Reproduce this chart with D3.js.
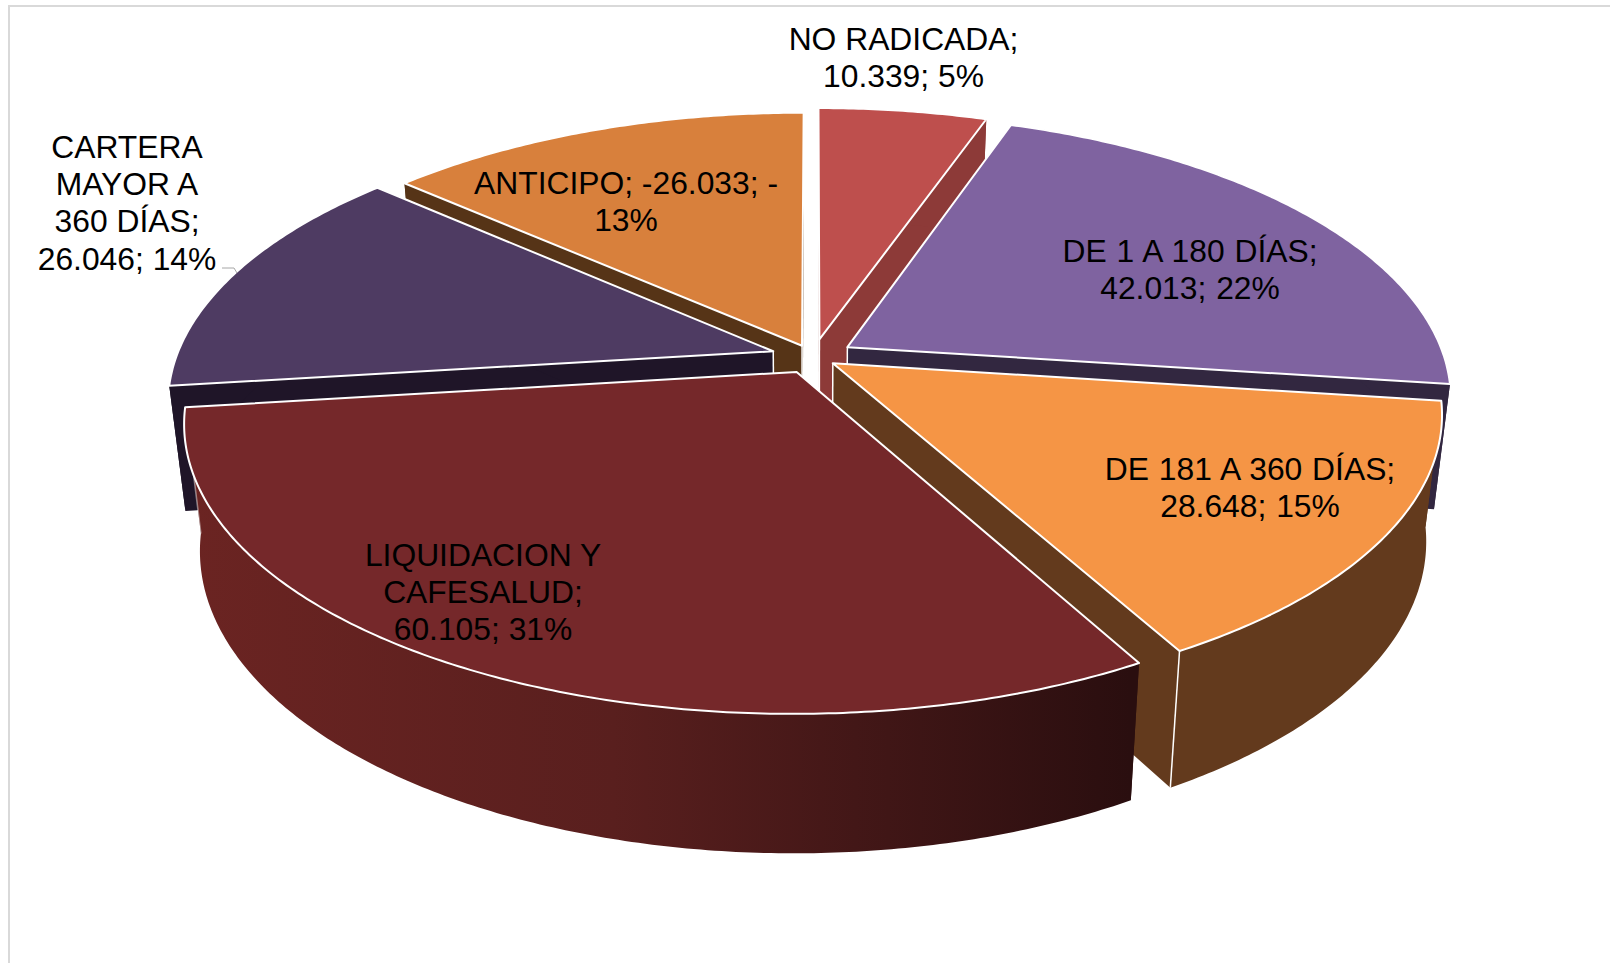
<!DOCTYPE html>
<html><head><meta charset="utf-8">
<script src="https://cdn.jsdelivr.net/npm/d3@7"></script>
<style>html,body{margin:0;padding:0;background:#fff}svg{display:block}</style>
</head><body><svg id="c" width="1610" height="963"></svg>
<script>
const categories=["NO RADICADA","DE 1 A 180 DÍAS","DE 181 A 360 DÍAS","LIQUIDACION Y CAFESALUD","CARTERA MAYOR A 360 DÍAS","ANTICIPO"];
const values=[10339,42013,28648,60105,26046,-26033];
const labelLines=[["NO RADICADA;","10.339; 5%"],["DE 1 A 180 DÍAS;","42.013; 22%"],["DE 181 A 360 DÍAS;","28.648; 15%"],["LIQUIDACION Y","CAFESALUD;","60.105; 31%"],["CARTERA","MAYOR A","360 DÍAS;","26.046; 14%"],["ANTICIPO; -26.033; -","13%"]];
const labelAnchors=[[903.5,50],[1190,262],[1250,480],[483,566],[127,158],[626,194]];
const labelWordSpacing=[0,1,1,0,0,0];
const topColors=["#BE4F4D","#7F63A0","#F59545","#75282A","#4E3B62","#D8803C"];
const wallColors=["#8D3A38","#322740","#633A1D","url(#liqWall)","#1F1528","#563417"];
const cutColors=["#8D3A38","#322740","#633A1D","#2B0E0F","#1F1528","#563417"];
const rimEdge=[0,0,1,0.45,0,0];
const explode=[0.065,0.068,0.04,0.06,0.07,0.045];
const paintOrder=[5,4,0,1,2,3];

const svg=d3.select("#c");
const W=1610,H=963;
svg.append("rect").attr("x",9).attr("y",6).attr("width",W+20).attr("height",H+20).attr("fill","#fff").attr("stroke","#D9D9D9").attr("stroke-width",2);

const defs=svg.append("defs");
const g=defs.append("linearGradient").attr("id","liqWall").attr("gradientUnits","userSpaceOnUse").attr("x1",190).attr("x2",1130).attr("y1",0).attr("y2",0);
g.append("stop").attr("offset",0).attr("stop-color","#6B2422");
g.append("stop").attr("offset",0.45).attr("stop-color","#591F1E");
g.append("stop").attr("offset",1).attr("stop-color","#2A0E0F");

// perspective planes of the disc
const K=0.173;
const topPlane={cx:813,cy:357,a:597,b:277};
const botPlane={cx:813,cy:481,a:582,b:289};
function proj(p,u,v){const w=1-K*v;return [p.cx+p.a*u/w,p.cy+p.b*v/w];}

const pie=d3.pie().value(d=>Math.abs(d)).sort(null);
const arcs=pie(values);
const line=d3.line();

function geom(d,e){
  const mid=(d.startAngle+d.endAngle)/2;
  const eu=e*Math.sin(mid),ev=-e*Math.cos(mid);
  const n=Math.ceil((d.endAngle-d.startAngle)/0.01);
  const angs=d3.range(n+1).map(i=>d.startAngle+(d.endAngle-d.startAngle)*i/n);
  const rim=p=>angs.map(a=>proj(p,eu+Math.sin(a),ev-Math.cos(a)));
  return {apexT:proj(topPlane,eu,ev),apexB:proj(botPlane,eu,ev),rimT:rim(topPlane),rimB:rim(botPlane)};
}

paintOrder.forEach(i=>{
  const gm=geom(arcs[i],explode[i]);
  const gr=svg.append("g").attr("class","slice").datum(arcs[i]);
  const rT=gm.rimT,rB=gm.rimB,last=rT.length-1;
  // cut faces
  gr.append("path").attr("d",line([gm.apexT,rT[0],rB[0],gm.apexB])+"Z").attr("fill",cutColors[i]);
  gr.append("path").attr("d",line([gm.apexT,rT[last],rB[last],gm.apexB])+"Z").attr("fill",cutColors[i]);
  // outer wall
  gr.append("path").attr("d",line(rT.concat(rB.slice().reverse()))+"Z").attr("fill",wallColors[i]);
  // vertical edges
  gr.append("path").attr("d",line([gm.apexT,gm.apexB])).attr("stroke","#fff").attr("stroke-width",1.5).attr("fill","none");
  if(rimEdge[i]>0) gr.append("path").attr("d",line([rT[last],rB[last]])).attr("stroke","#fff").attr("stroke-opacity",rimEdge[i]).attr("stroke-width",1.5).attr("fill","none");
  // top face
  gr.append("path").attr("d",line([gm.apexT].concat(rT))+"Z").attr("fill",topColors[i]).attr("stroke","#fff").attr("stroke-width",2).attr("stroke-linejoin","round");
});

// leader line
svg.append("path").attr("d",line([[222,268],[234,268],[237,273]])).attr("fill","none").attr("stroke","#A6A6A6").attr("stroke-width",1);

labelLines.forEach((ls,i)=>{
  const t=svg.append("text").attr("text-anchor","middle").attr("font-family","'Liberation Sans',Arial,sans-serif").attr("font-size",31.8).attr("word-spacing",labelWordSpacing[i]).attr("fill","#000");
  ls.forEach((s,j)=>t.append("tspan").attr("x",labelAnchors[i][0]).attr("y",labelAnchors[i][1]+j*37.2).text(s));
});
</script></body></html>
